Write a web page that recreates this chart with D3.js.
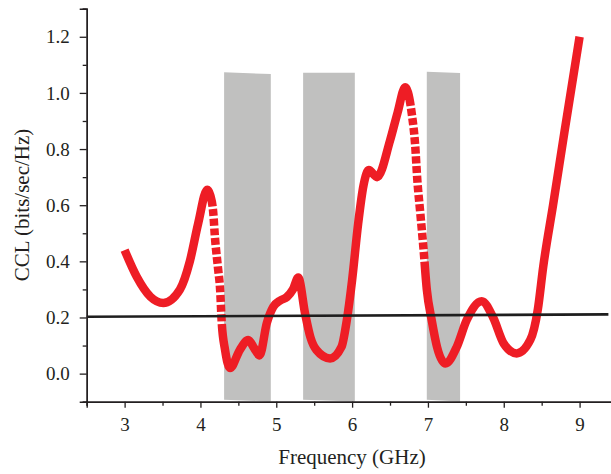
<!DOCTYPE html>
<html>
<head>
<meta charset="utf-8">
<script src="https://cdn.jsdelivr.net/npm/d3@7"></script>
<style>
  html, body { margin: 0; padding: 0; background: #fff; }
  svg { display: block; }
  text { font-family: "Liberation Serif", "Times New Roman", serif; fill: #231f20; }
</style>
</head>
<body>
<svg id="chart" width="611" height="474"></svg>
<script>
// CCL curve (bits/sec/Hz) against frequency (GHz)
const freq = [3.0, 3.16, 3.34, 3.51, 3.73, 3.86, 3.97, 4.09, 4.13, 4.17, 4.19, 4.23, 4.26, 4.28, 4.325, 4.39,
  4.52, 4.63, 4.71, 4.78, 4.875, 4.96, 5.05, 5.14, 5.22, 5.29, 5.38, 5.45, 5.53, 5.71, 5.86, 5.93,
  6.0, 6.08, 6.15, 6.22, 6.33, 6.5, 6.6, 6.70, 6.79, 6.83, 6.86, 6.9, 6.94, 6.985, 7.05, 7.12,
  7.23, 7.38, 7.51, 7.71, 7.86, 8.0, 8.17, 8.35, 8.45, 8.52, 8.65, 8.8, 9.0];
const ccl = [0.44, 0.345, 0.274, 0.252, 0.30, 0.40, 0.535, 0.655, 0.635, 0.57, 0.49, 0.38, 0.297, 0.185, 0.084, 0.02,
  0.085, 0.12, 0.09, 0.065, 0.18, 0.238, 0.26, 0.273, 0.30, 0.342, 0.214, 0.13, 0.084, 0.054, 0.095, 0.19,
  0.333, 0.535, 0.67, 0.725, 0.70, 0.83, 0.93, 1.02, 0.92, 0.82, 0.69, 0.57, 0.45, 0.30, 0.19, 0.095,
  0.036, 0.095, 0.19, 0.258, 0.20, 0.107, 0.072, 0.12, 0.23, 0.38, 0.60, 0.86, 1.2];
// frequency spans where the curve is drawn with square markers
const dashedFrom = [4.16, 6.77];
const dashedTo = [4.285, 6.955];

// shaded bands (frequency edges and top/bottom CCL levels of each edge)
const bandStart = [4.312, 5.354, 6.985];
const bandEnd = [4.928, 6.036, 7.424];
const bandTopStart = [1.074, 1.072, 1.075];
const bandTopEnd = [1.067, 1.072, 1.071];
const bandBottomStart = [-0.093, -0.093, -0.093];
const bandBottomEnd = [-0.099, -0.099, -0.099];

// threshold line
const refFreq = [2.5, 9.38];
const refCcl = [0.2025, 0.211];

// axis ticks
const xTicks = [3, 4, 5, 6, 7, 8, 9];
const xMinor = [2.5, 3.5, 4.5, 5.5, 6.5, 7.5, 8.5, 9.5];
const yTicks = [0.0, 0.2, 0.4, 0.6, 0.8, 1.0, 1.2];
const yMinor = [-0.1, 0.1, 0.3, 0.5, 0.7, 0.9, 1.1, 1.3];

const svg = d3.select("#chart");
const x = d3.scaleLinear().domain([2.5, 9.5]).range([86.7, 617.5]);
const y = d3.scaleLinear().domain([-0.1, 1.3]).range([401.7, 8.7]);

// bands
const bands = bandStart.map((s, i) => [
  [s, bandTopStart[i]], [bandEnd[i], bandTopEnd[i]],
  [bandEnd[i], bandBottomEnd[i]], [s, bandBottomStart[i]]
]);
svg.append("g").selectAll("path").data(bands).join("path")
  .attr("d", d => "M" + d.map(p => [x(p[0]), y(p[1])].join(",")).join("L") + "Z")
  .attr("fill", "#c0c0bf");

// curve
const pts = freq.map((f, i) => [f, ccl[i]]);
const line = d3.line().x(d => x(d[0])).y(d => y(d[1])).curve(d3.curveMonotoneX);
const curve = svg.append("path")
  .attr("d", line(pts))
  .attr("fill", "none")
  .attr("stroke", "#ee1d25")
  .attr("stroke-width", 8.5)
  .attr("stroke-linecap", "butt")
  .attr("stroke-linejoin", "round");

const node = curve.node();
const total = node.getTotalLength();
function lengthAtX(px) {
  let lo = 0, hi = total;
  for (let k = 0; k < 40; k++) {
    const mid = (lo + hi) / 2;
    if (node.getPointAtLength(mid).x < px) lo = mid; else hi = mid;
  }
  return (lo + hi) / 2;
}
const dash = 7, gap = 2.6;
const pattern = [];
let pos = 0;
dashedFrom.forEach((a, i) => {
  const La = lengthAtX(x(a));
  const Lb = lengthAtX(x(dashedTo[i]));
  pattern.push(La - pos);
  let t = La;
  while (t + gap + dash <= Lb) {
    pattern.push(gap, dash);
    t += gap + dash;
  }
  pattern.push(gap);
  pos = t + gap;
});
pattern.push(total - pos + 20, 0);
curve.attr("stroke-dasharray", pattern.join(","));

// threshold line
svg.append("path")
  .attr("d", d3.line().x(d => x(d[0])).y(d => y(d[1]))(refFreq.map((f, i) => [f, refCcl[i]])))
  .attr("stroke", "#1e1e1e")
  .attr("stroke-width", 2.6)
  .attr("fill", "none");

// axes
const axisColor = "#231f20";
const gx = svg.append("g").attr("transform", `translate(0,${y(-0.1)})`);
gx.call(d3.axisBottom(x).tickValues(xTicks).tickSize(6).tickPadding(10).tickFormat(d3.format("d")));
gx.append("g").call(d3.axisBottom(x).tickValues(xMinor).tickSize(4).tickFormat(""));
gx.selectAll(".domain").attr("stroke", axisColor).attr("stroke-width", 1.4);
gx.selectAll(".tick line").attr("stroke", axisColor).attr("stroke-width", 1.3);
gx.selectAll("text").attr("font-size", 19).attr("font-family", "Liberation Serif").attr("fill", axisColor);

const gy = svg.append("g").attr("transform", `translate(${x(2.5)},0)`);
gy.call(d3.axisLeft(y).tickValues(yTicks).tickSize(7).tickPadding(10).tickFormat(d3.format(".1f")));
gy.append("g").call(d3.axisLeft(y).tickValues(yMinor).tickSize(4).tickFormat(""));
gy.selectAll(".domain").attr("stroke", axisColor).attr("stroke-width", 1.4);
gy.selectAll(".tick line").attr("stroke", axisColor).attr("stroke-width", 1.3);
gy.selectAll("text").attr("font-size", 19).attr("font-family", "Liberation Serif").attr("fill", axisColor);

// axis titles
svg.append("text")
  .attr("x", 352).attr("y", 464)
  .attr("text-anchor", "middle")
  .attr("font-size", 21)
  .text("Frequency (GHz)");
svg.append("text")
  .attr("transform", "translate(28.5,205) rotate(-90)")
  .attr("text-anchor", "middle")
  .attr("font-size", 21)
  .text("CCL (bits/sec/Hz)");
</script>
</body>
</html>
